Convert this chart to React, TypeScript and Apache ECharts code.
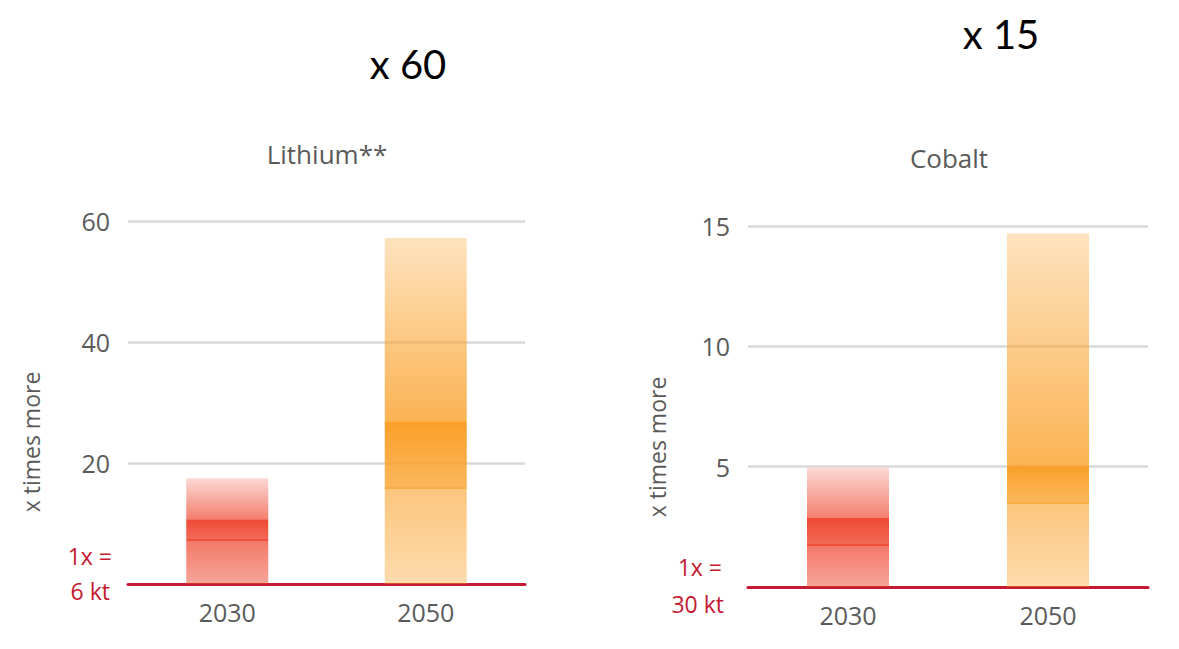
import React, { useEffect, useRef } from "react";
import * as echarts from "echarts";

// Years shown on each panel
const categories = ["2030", "2050"];

// Lithium demand, multiples of today's 6 kt: low / central / high scenario
const lithiumLow = [7.1, 15.7];
const lithiumCentral = [10.7, 26.9];
const lithiumHigh = [17.5, 57.2];

// Cobalt demand, multiples of today's 30 kt: low / central / high scenario
const cobaltLow = [1.7, 3.45];
const cobaltCentral = [2.87, 5.03];
const cobaltHigh = [4.95, 14.7];

// Axis ranges
const lithiumMax = 60;
const lithiumStep = 20;
const cobaltMax = 15;
const cobaltStep = 5;

const FONT = "'Open Sans', 'Noto Sans', sans-serif";
const GREY = "#5a5a5a";
const RED = "#c41a32";

// base colours per year (red for 2030, orange for 2050)
const BASES = [
  [238, 64, 40],
  [250, 160, 40],
];

const rgba = (b: number[], a: number) => `rgba(${b[0]},${b[1]},${b[2]},${a})`;

const grad = (stops: [number, string][]) => ({
  type: "linear",
  x: 0,
  y: 0,
  x2: 0,
  y2: 1,
  colorStops: stops.map(([offset, color]) => ({ offset, color })),
});

// alpha ramps for each segment of a bar, per year
const HIGH_ALPHA = [
  [0.2, 0.67],
  [0.3, 0.8],
];
const MID_ALPHA = [
  [0.95, 0.78, 0.92],
  [1.0, 0.76, 0.86],
];
const LOW_ALPHA = [
  [0.7, 0.47],
  [0.6, 0.38],
];

function buildSeries(
  low: number[],
  central: number[],
  high: number[],
  max: number,
  gridH: number,
  idx: number
) {
  const lowData = low.map((v, i) => ({
    value: v,
    itemStyle: {
      color: grad([
        [0, rgba(BASES[i], LOW_ALPHA[i][0])],
        [1, rgba(BASES[i], LOW_ALPHA[i][1])],
      ]),
    },
  }));
  const midData = central.map((c, i) => {
    const v = c - low[i];
    const px = (v / max) * gridH;
    const edge = Math.max(0, 1 - 2 / px);
    return {
      value: v,
      itemStyle: {
        color: grad([
          [0, rgba(BASES[i], MID_ALPHA[i][0])],
          [edge, rgba(BASES[i], MID_ALPHA[i][1])],
          [edge, rgba(BASES[i], MID_ALPHA[i][2])],
          [1, rgba(BASES[i], MID_ALPHA[i][2])],
        ]),
      },
    };
  });
  const highData = high.map((h, i) => ({
    value: h - central[i],
    itemStyle: {
      color: grad([
        [0, rgba(BASES[i], HIGH_ALPHA[i][0])],
        [1, rgba(BASES[i], HIGH_ALPHA[i][1])],
      ]),
    },
  }));
  const common = {
    type: "bar",
    stack: "s" + idx,
    xAxisIndex: idx,
    yAxisIndex: idx,
    barWidth: 82,
  };
  return [
    { ...common, name: "low", data: lowData },
    { ...common, name: "central", data: midData },
    { ...common, name: "high", data: highData },
  ];
}

const xAxisBase = (gridIndex: number) => ({
  type: "category",
  gridIndex,
  data: categories,
  axisLine: { lineStyle: { color: RED, width: 3 } },
  axisTick: { show: false },
  axisLabel: { fontSize: 25, color: GREY, margin: 15, fontFamily: FONT },
});

const yAxisBase = (gridIndex: number, max: number, step: number) => ({
  type: "value",
  gridIndex,
  min: 0,
  max,
  interval: step,
  axisLine: { show: false },
  axisTick: { show: false },
  splitLine: { lineStyle: { color: "#d9d9d9", width: 2.5 } },
  axisLabel: {
    fontSize: 25,
    color: GREY,
    margin: 18,
    fontFamily: FONT,
    formatter: (v: number) => (v === 0 ? "" : String(v)),
  },
});

const txt = (
  text: string,
  x: number,
  y: number,
  size: number,
  color: string,
  align = "center",
  family = FONT,
  rotation = 0
) => ({
  type: "text",
  x,
  y,
  rotation,
  style: {
    text,
    fill: color,
    font: `${size}px ${family}`,
    align,
    verticalAlign: "middle",
  },
});

export default function App() {
  const ref = useRef<HTMLDivElement>(null);

  useEffect(() => {
    if (!ref.current) return;
    const chart = echarts.init(ref.current, null, { renderer: "svg" });
    const g1 = { left: 128, top: 221, width: 397, height: 363 };
    const g2 = { left: 748, top: 226, width: 400, height: 361 };
    chart.setOption({
      animation: false,
      backgroundColor: "#ffffff",
      grid: [g1, g2],
      xAxis: [xAxisBase(0), xAxisBase(1)],
      yAxis: [
        yAxisBase(0, lithiumMax, lithiumStep),
        yAxisBase(1, cobaltMax, cobaltStep),
      ],
      series: [
        ...buildSeries(lithiumLow, lithiumCentral, lithiumHigh, lithiumMax, g1.height, 0),
        ...buildSeries(cobaltLow, cobaltCentral, cobaltHigh, cobaltMax, g2.height, 1),
      ],
      graphic: [
        txt("x 60", 408, 64, 40, "#000000", "center", "Lato, sans-serif"),
        txt("x 15", 1001, 34, 40, "#000000", "center", "Lato, sans-serif"),
        txt("Lithium**", 327, 154, 26, GREY),
        txt("Cobalt", 949, 158, 26, GREY),
        txt("x times more", 31, 442, 23, GREY, "center", FONT, Math.PI / 2),
        txt("x times more", 657, 447, 23, GREY, "center", FONT, Math.PI / 2),
        txt("1x =", 112, 556, 23, RED, "right"),
        txt("6 kt", 110, 591, 23, RED, "right"),
        txt("1x =", 722, 567, 23, RED, "right"),
        txt("30 kt", 724, 604, 23, RED, "right"),
      ],
    });
    return () => chart.dispose();
  }, []);

  return (
    <div
      ref={ref}
      style={{ position: "absolute", left: 0, top: 0, width: 1179, height: 649 }}
    />
  );
}
